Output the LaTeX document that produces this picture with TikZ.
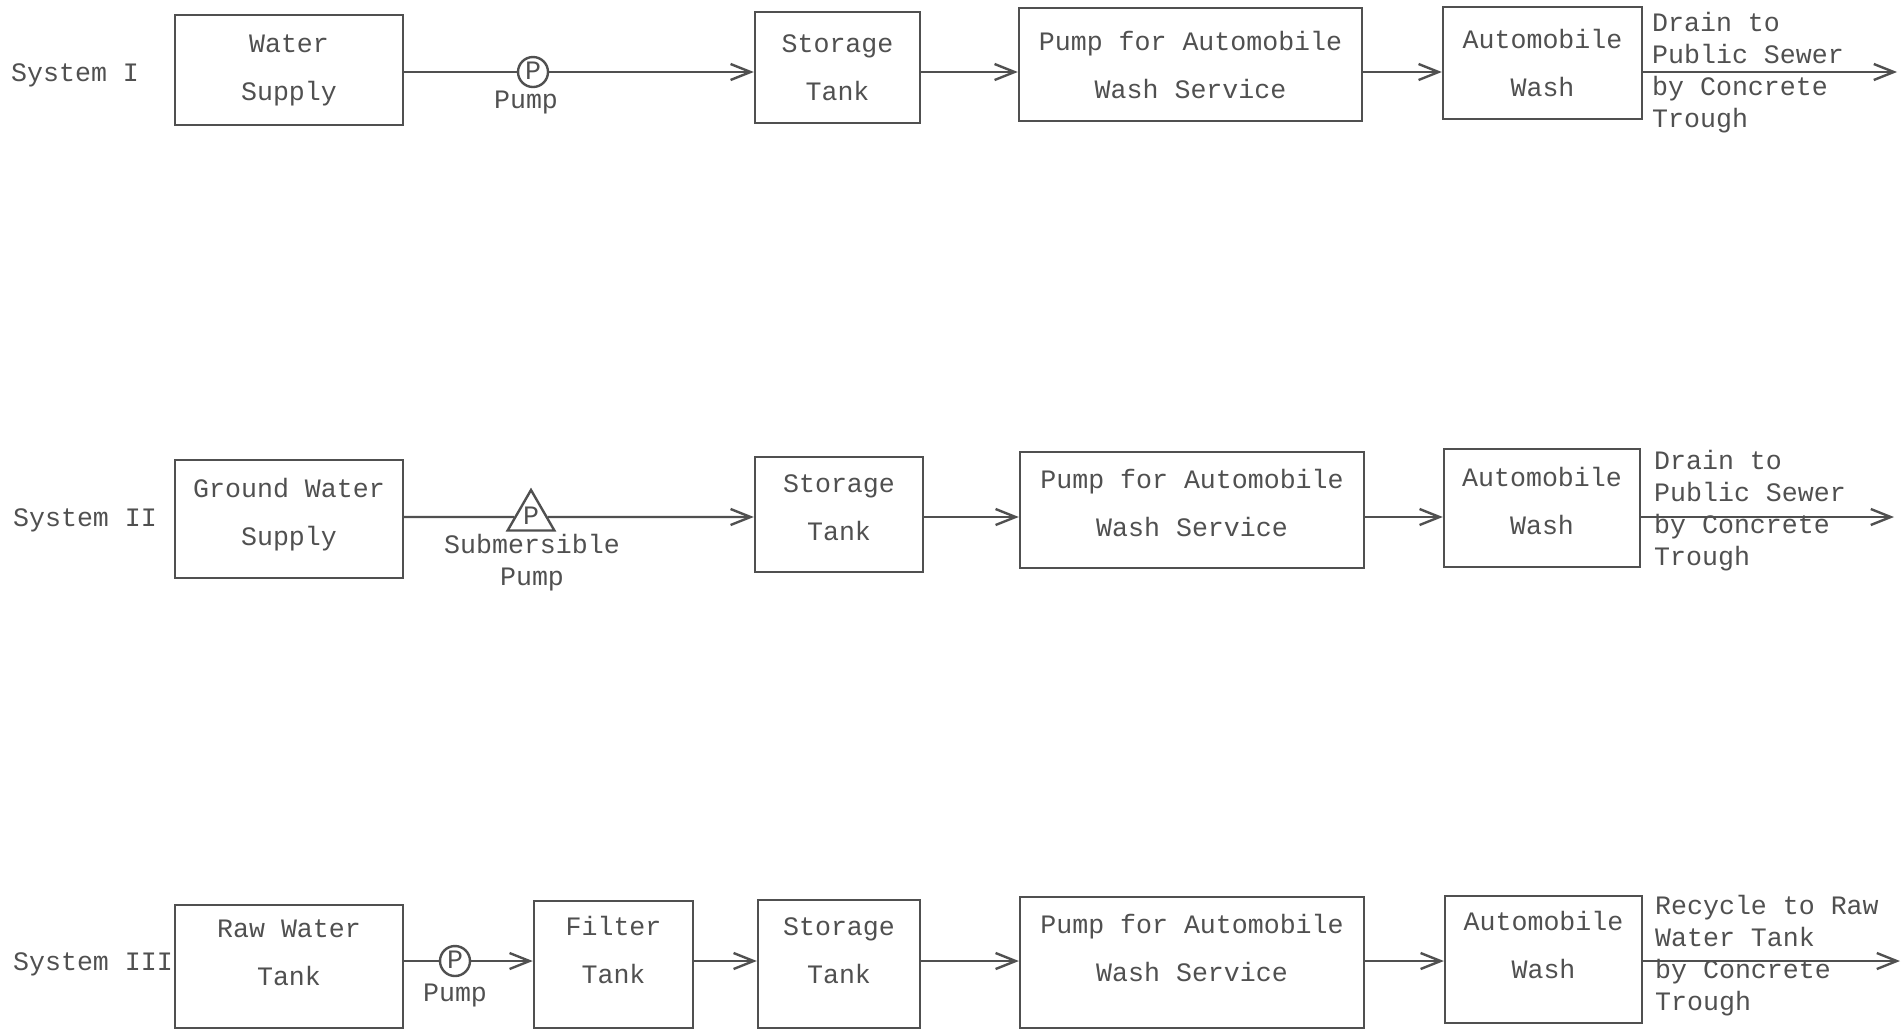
\documentclass[tikz,border=0pt]{standalone}
\usepackage{fontspec}
\setmonofont{Liberation Mono}
\usepackage{tikz}
\usetikzlibrary{
    arrows.meta,
    shapes.geometric,
    positioning
}
\definecolor{ink}{HTML}{505050}

\tikzset{
    box/.style 2 args={draw, align=center, minimum width=#1, minimum height=#2,
        font=\ttfamily\fontsize{13.3}{24}\selectfont},
    raised/.style={text height=#1, text depth=0pt},
    note/.style={align=left, inner sep=0pt, font=\ttfamily\fontsize{13.3}{16}\selectfont},
    lbl/.style={inner sep=0pt, font=\ttfamily\fontsize{13.3}{16}\selectfont},
    pump/.style={draw, circle, inner sep=0pt, minimum size=15pt, text height=7.5pt,
        text depth=0pt, font=\ttfamily\fontsize{13.3}{16}\selectfont},
    subpump/.style={draw, regular polygon, regular polygon sides=3, inner sep=0pt,
        minimum size=27pt, text height=7.5pt, text depth=0pt,
        font=\ttfamily\fontsize{13.3}{16}\selectfont},
    flow/.style={-{Straight Barb[length=10pt, width=8pt]}}
}

\begin{document}
\begin{tikzpicture}[x=0.5pt, y=-0.5pt, color=ink, line width=1.2pt]
    \useasboundingbox (0, 0) rectangle (1904, 1030);

    % System I
    \node[lbl, anchor=west] (s1) at (10, 75) {System I};
    \node[box={114pt}{55pt}] (ws1) at (289, 70) {Water\\Supply};
    \node[box={82.5pt}{55.5pt}] (st1) at (837.5, 67.5) {Storage\\Tank};
    \node[box={171.5pt}{56.5pt}] (pa1) at (1190.5, 64.5) {Pump for Automobile\\Wash Service};
    \node[box={99.5pt}{56pt}] (aw1) at (1542.5, 63) {Automobile\\Wash};
    \node[pump] (p1) at (533, 72) {P};
    \node[lbl] (pl1) at (526, 102) {Pump};
    \node[note, anchor=west] (d1) at (1651, 72.5) {Drain to\\Public Sewer\\by Concrete\\Trough};
    \coordinate (r1) at (0, 72);
    \coordinate (out1) at (1897, 72);

    \draw
    (r1 -| ws1.east) edge (p1)
    (p1) edge[flow] (r1 -| st1.west)
    (r1 -| st1.east) edge[flow] (r1 -| pa1.west)
    (r1 -| pa1.east) edge[flow] (r1 -| aw1.west)
    (r1 -| aw1.east) edge[flow] (out1);

    % System II
    \node[lbl, anchor=west] (s2) at (12, 520) {System II};
    \node[box={114pt}{59pt}, raised=26pt] (gw2) at (289, 519) {Ground Water\\Supply};
    \node[box={84pt}{57.5pt}, raised=26pt] (st2) at (839, 514.5) {Storage\\Tank};
    \node[box={172pt}{58pt}, raised=26pt] (pa2) at (1192, 510) {Pump for Automobile\\Wash Service};
    \node[box={98pt}{59pt}, raised=26pt] (aw2) at (1542, 508) {Automobile\\Wash};
    \node[subpump] (p2) at (531, 517) {P};
    \node[note, align=center] (pl2) at (532, 563) {Submersible\\Pump};
    \node[note, anchor=west] (d2) at (1653, 511) {Drain to\\Public Sewer\\by Concrete\\Trough};
    \coordinate (r2) at (0, 517);
    \coordinate (out2) at (1894, 517);

    \draw
    (r2 -| gw2.east) edge (p2)
    (p2) edge[flow] (r2 -| st2.west)
    (r2 -| st2.east) edge[flow] (r2 -| pa2.west)
    (r2 -| pa2.east) edge[flow] (r2 -| aw2.west)
    (r2 -| aw2.east) edge[flow] (out2);

    % System III
    \node[lbl, anchor=west] (s3) at (12, 964) {System III};
    \node[box={114pt}{61.5pt}, raised=19pt] (rw3) at (289, 966.5) {Raw Water\\Tank};
    \node[box={79.5pt}{63.5pt}, raised=19pt] (ft3) at (613.5, 964.5) {Filter\\Tank};
    \node[box={81pt}{64pt}, raised=19pt] (st3) at (839, 964) {Storage\\Tank};
    \node[box={172pt}{65.5pt}, raised=19pt] (pa3) at (1192, 962.5) {Pump for Automobile\\Wash Service};
    \node[box={98.5pt}{63.5pt}, raised=19pt] (aw3) at (1543.5, 959.5) {Automobile\\Wash};
    \node[pump] (p3) at (455, 961) {P};
    \node[lbl] (pl3) at (455, 995) {Pump};
    \node[note, anchor=west] (d3) at (1654, 955.5) {Recycle to Raw\\Water Tank\\by Concrete\\Trough};
    \coordinate (r3) at (0, 961);
    \coordinate (out3) at (1900, 961);

    \draw
    (r3 -| rw3.east) edge (p3)
    (p3) edge[flow] (r3 -| ft3.west)
    (r3 -| ft3.east) edge[flow] (r3 -| st3.west)
    (r3 -| st3.east) edge[flow] (r3 -| pa3.west)
    (r3 -| pa3.east) edge[flow] (r3 -| aw3.west)
    (r3 -| aw3.east) edge[flow] (out3);
\end{tikzpicture}
\end{document}
